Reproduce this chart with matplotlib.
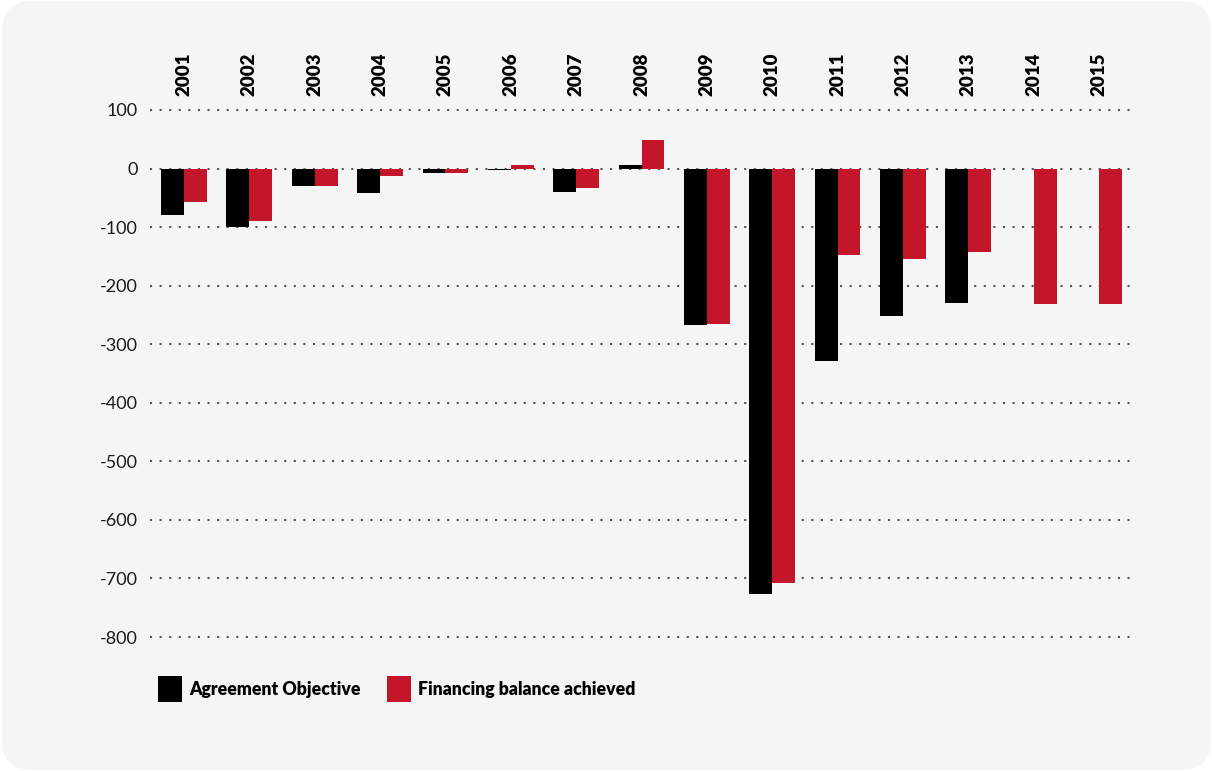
import numpy as np
import matplotlib
matplotlib.use("Agg")
import matplotlib.pyplot as plt
from matplotlib.patches import FancyBboxPatch
from matplotlib.transforms import IdentityTransform

plt.rcParams['font.family'] = ['Lato', 'DejaVu Sans']

years = ['2001', '2002', '2003', '2004', '2005', '2006', '2007', '2008',
         '2009', '2010', '2011', '2012', '2013', '2014', '2015']
agreement = [-79, -100, -30, -42, -8, -2, -40, 6, -268, -727, -329, -251, -229,
             np.nan, np.nan]
achieved = [-57, -90, -30, -13, -8, 6, -33, 49, -266, -707, -147, -154, -143,
            -232, -232]
yticks = [100, 0, -100, -200, -300, -400, -500, -600, -700, -800]

W, H = 1212, 771
fig = plt.figure(figsize=(W / 100, H / 100), dpi=100)
fig.patch.set_facecolor('white')

# rounded grey panel
bg = FancyBboxPatch((2, 1), W - 3, H - 2, boxstyle="round,pad=0,rounding_size=30",
                    transform=IdentityTransform(), facecolor='#f5f5f5',
                    edgecolor='none', zorder=-10)
fig.patches.append(bg)

# axes placement (pixels)
left, right = 150, 1135
top, bottom = 104.1, 642.9
ax = fig.add_axes([left / W, 1 - bottom / H, (right - left) / W, (bottom - top) / H])
ax.set_facecolor('none')

x = np.arange(len(years))
w = 0.35
ax.bar(x - w / 2, agreement, w, color='black', label='Agreement Objective', zorder=3)
ax.bar(x + w / 2, achieved, w, color='#c3162a', label='Financing balance achieved', zorder=3)

ax.set_xlim(-0.52, 14.55)
ax.set_ylim(-810, 110)
ax.set_yticks(yticks)
ax.set_yticklabels([str(v) for v in yticks], fontsize=13, color='#1a1a1a')
for v in yticks:
    ax.axhline(v, color='#555555', lw=1.5, ls=(0, (1, 3.6)), zorder=1)

# year labels on top, rotated
ax.set_xticks([])
for i, yr in enumerate(years):
    ax.annotate(yr, (i, 1), xycoords=ax.get_xaxis_transform(),
                xytext=(0, 5.8), textcoords='offset points',
                rotation=90, ha='center', va='bottom',
                fontsize=13.5, fontweight='heavy', color='black')
ax.tick_params(axis='y', length=0, pad=9)
for s in ax.spines.values():
    s.set_visible(False)

fig.legend(loc='upper left', bbox_to_anchor=(149 / W, 1 - 667 / H), ncol=2,
           frameon=False, borderpad=0, handlelength=1.35, handleheight=1.95,
           handletextpad=0.42, columnspacing=1.5,
           prop={'size': 12.7, 'weight': 'heavy'})

fig.savefig('out.png', dpi=100, facecolor='white')
